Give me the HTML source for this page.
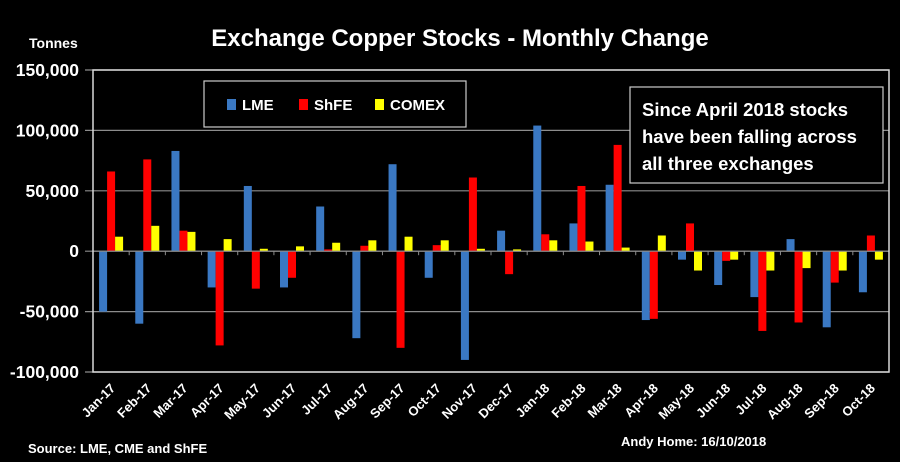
<!DOCTYPE html>
<html><head><meta charset="utf-8"><style>
html,body{margin:0;padding:0;background:#000;}
svg{display:block;font-family:"Liberation Sans",sans-serif;font-weight:bold;}
</style></head><body>
<svg id="chart" width="900" height="462" viewBox="0 0 900 462">
<rect x="0" y="0" width="900" height="462" fill="#000"/>
<text x="460" y="46" fill="#fff" font-size="24" text-anchor="middle">Exchange Copper Stocks - Monthly Change</text>
<text x="29" y="48" fill="#fff" font-size="14">Tonnes</text>
<g id="grid"></g>
<g id="bars"></g>
<g id="axes"></g>
<g>
<rect x="204" y="81" width="262" height="46" fill="#000" stroke="#ccc" stroke-width="1.2"/>
<rect x="227" y="99" width="9" height="11" fill="#3a78c3"/>
<text x="242" y="110" fill="#fff" font-size="15">LME</text>
<rect x="299" y="99" width="9" height="11" fill="#ff0000"/>
<text x="314" y="110" fill="#fff" font-size="15">ShFE</text>
<rect x="375" y="99" width="9" height="11" fill="#ffff00"/>
<text x="390" y="110" fill="#fff" font-size="15">COMEX</text>
</g>
<g>
<rect x="630" y="87" width="253" height="96" fill="#000" stroke="#ccc" stroke-width="1.2"/>
<text fill="#fff" font-size="18.5">
<tspan x="642" y="116">Since April 2018 stocks</tspan>
<tspan x="642" y="143">have been falling across</tspan>
<tspan x="642" y="170">all three exchanges</tspan></text>
</g>
<text x="28" y="453" fill="#fff" font-size="13">Source: LME, CME and ShFE</text>
<text x="621" y="446" fill="#fff" font-size="13">Andy Home: 16/10/2018</text>
</svg>
<script>
const categories=["Jan-17","Feb-17","Mar-17","Apr-17","May-17","Jun-17","Jul-17","Aug-17","Sep-17","Oct-17","Nov-17","Dec-17","Jan-18","Feb-18","Mar-18","Apr-18","May-18","Jun-18","Jul-18","Aug-18","Sep-18","Oct-18"];
const lme=[-50000,-60000,83000,-30000,54000,-30000,37000,-72000,72000,-22000,-90000,17000,104000,23000,55000,-57000,-7000,-28000,-38000,10000,-63000,-34000];
const shfe=[66000,76000,17000,-78000,-31000,-22000,1500,4500,-80000,5000,61000,-19000,14000,54000,88000,-56000,23000,-8000,-66000,-59000,-26000,13000];
const comex=[12000,21000,16000,10000,2000,4000,7000,9000,12000,9000,2000,1500,9000,8000,3000,13000,-16000,-7000,-16000,-14000,-16000,-7000];
const yTicks=[150000,100000,50000,0,-50000,-100000];
const yTickLabels=["150,000","100,000","50,000","0","-50,000","-100,000"];
const NS="http://www.w3.org/2000/svg";
const L=93,R=889,T=70,B=372,yMax=150000,yMin=-100000;
const y=v=>T+(yMax-v)/(yMax-yMin)*(B-T);
const bw=(R-L)/categories.length;
const x=i=>L+i*bw;
function mk(tag,attrs,parent){const e=document.createElementNS(NS,tag);for(const k in attrs)e.setAttribute(k,attrs[k]);parent.appendChild(e);return e;}
const grid=document.getElementById('grid'),bars=document.getElementById('bars'),axes=document.getElementById('axes');
yTicks.forEach((t,i)=>{
  const ln=mk('line',{x1:L-8,x2:R,y1:y(t),y2:y(t),stroke:'#8c8c8c','stroke-width':1.2},grid);
  
  
  const tx=mk('text',{x:L-14,y:y(t)+6,fill:'#fff','font-size':17.5,'text-anchor':'end'},axes);
  tx.textContent=yTickLabels[i];
  
  
});
const series=[[lme,'#3a78c3','lme'],[shfe,'#ff0000','shfe'],[comex,'#ffff00','comex']];
const w=8,off=[-12,-4,4];
categories.forEach((c,i)=>{
  const cx=x(i)+bw/2;
  series.forEach((s,k)=>{
    const v=s[0][i];const y0=y(0),y1=y(v);
    const r=mk('rect',{x:cx+off[k],y:Math.min(y0,y1),width:w,height:Math.abs(y1-y0),fill:s[1]},bars);
    
    
  });
  const tk=mk('line',{x1:x(i),x2:x(i),y1:y(0),y2:y(0)+4,stroke:'#8c8c8c','stroke-width':1},axes);
  
  
  const lb=mk('text',{x:cx+5,y:389,fill:'#fff','font-size':13,'text-anchor':'end',transform:'rotate(-45 '+(cx+5)+' 389)'},axes);
  lb.textContent=c;
  
  
});
const z=mk('line',{x1:L,x2:R,y1:y(0),y2:y(0),stroke:'#8c8c8c','stroke-width':1.2},axes);


const fr=mk('rect',{x:L,y:T,width:R-L,height:B-T,fill:'none',stroke:'#d9d9d9','stroke-width':1.5},axes);


</script>
</body></html>
